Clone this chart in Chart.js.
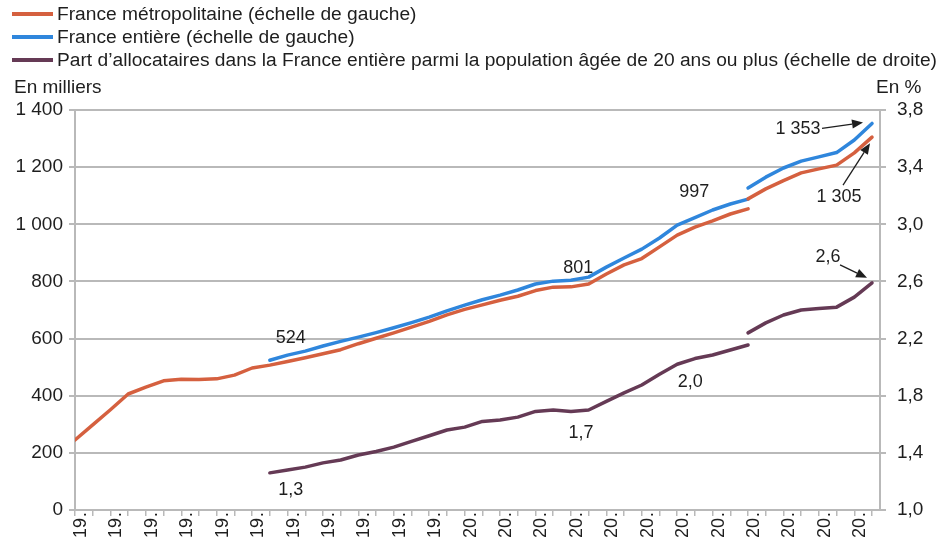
<!DOCTYPE html>
<html>
<head>
<meta charset="utf-8">
<script src="https://cdn.jsdelivr.net/npm/chart.js@4.4.1/dist/chart.umd.min.js"></script>
<style>
  html, body { margin: 0; padding: 0; background: #fff; }
  #wrap { width: 948px; height: 543px; }
</style>
</head>
<body>
<div id="wrap"><canvas id="chart"></canvas></div>
<script>
var years = [1979, 1980, 1981, 1982, 1983, 1984, 1985, 1986, 1987, 1988,
  1989, 1990, 1991, 1992, 1993, 1994, 1995, 1996, 1997, 1998,
  1999, 2000, 2001, 2002, 2003, 2004, 2005, 2006, 2007, 2008,
  2009, 2010, 2011, 2012, 2013, 2014, 2015, 2016, 2017, 2018,
  2019, 2020, 2021, 2022, 2023, 2024];

// France metropolitaine, en milliers (ancienne / nouvelle serie)
var metroOld = [245, 298, 351, 406, 430, 452, 458, 457, 459, 472,
  497, 507, 520, 533, 547, 561, 582, 601, 620, 640,
  660, 683, 702, 718, 734, 748, 768, 780, 781, 791,
  826, 858, 880, 921, 962, 990, 1012, 1036, 1054, null,
  null, null, null, null, null, null];
var metroNew = [null, null, null, null, null, null, null, null, null, null,
  null, null, null, null, null, null, null, null, null, null,
  null, null, null, null, null, null, null, null, null, null,
  null, null, null, null, null, null, null, null, 1089, 1124,
  1153, 1180, 1194, 1207, 1250, 1305];

// France entiere, en milliers
var entiereOld = [null, null, null, null, null, null, null, null, null, null,
  null, 524, 542, 556, 574, 590, 605, 621, 638, 656,
  675, 697, 717, 736, 752, 770, 791, 801, 804, 815,
  850, 882, 913, 952, 997, 1023, 1050, 1071, 1088, null,
  null, null, null, null, null, null];
var entiereNew = [null, null, null, null, null, null, null, null, null, null,
  null, null, null, null, null, null, null, null, null, null,
  null, null, null, null, null, null, null, null, null, null,
  null, null, null, null, null, null, null, null, 1127, 1165,
  1197, 1221, 1236, 1251, 1295, 1353];

// Part d'allocataires parmi les 20 ans ou plus, en %
var partOld = [null, null, null, null, null, null, null, null, null, null,
  null, 1.26, 1.28, 1.30, 1.33, 1.35, 1.385, 1.41, 1.44, 1.48,
  1.52, 1.56, 1.58, 1.62, 1.63, 1.65, 1.69, 1.70, 1.69, 1.70,
  1.76, 1.82, 1.875, 1.95, 2.02, 2.06, 2.085, 2.12, 2.155, null,
  null, null, null, null, null, null];
var partNew = [null, null, null, null, null, null, null, null, null, null,
  null, null, null, null, null, null, null, null, null, null,
  null, null, null, null, null, null, null, null, null, null,
  null, null, null, null, null, null, null, null, 2.24, 2.31,
  2.365, 2.40, 2.41, 2.42, 2.49, 2.59];

var legendLabels = [
  'France métropolitaine (échelle de gauche)',
  'France entière (échelle de gauche)',
  'Part d\u2019allocataires dans la France entière parmi la population âgée de 20 ans ou plus (échelle de droite)'
];

var cOrange = '#d5603f';
var cBlue = '#2f86dc';
var cPurple = '#653a55';
var cGrid = '#b9b9b9';
var cText = '#1e1e1e';
var fontFam = '"Liberation Sans", Arial, sans-serif';

function pts(arr) {
  return arr.map(function (v, i) { return { x: i, y: v }; });
}

function fmtThousands(v) {
  var s = String(Math.round(v));
  return s.replace(/\B(?=(\d{3})+(?!\d))/g, ' ');
}

function lineSet(data, color, axis) {
  return {
    data: pts(data),
    borderColor: color,
    backgroundColor: color,
    borderWidth: 3.5,
    pointRadius: 0,
    tension: 0,
    fill: false,
    spanGaps: false,
    yAxisID: axis,
    borderCapStyle: 'round',
    borderJoinStyle: 'round'
  };
}

// valeurs annotees : [serie, index, axe, texte, dx, dy]
var notes = [
  [entiereOld, 11, 'y', '524', 21, -22],
  [entiereOld, 27, 'y', '801', 25, -13],
  [entiereOld, 34, 'y', '997', 17, -33],
  [partOld, 11, 'y1', '1,3', 21, 17],
  [partOld, 28, 'y1', '1,7', 10, 22],
  [partOld, 34, 'y1', '2,0', 13, 18]
];
// etiquettes avec fleche : [serie, index, axe, texte, dx, dy, depart fleche dx, dy, pointe dx, dy]
var arrowNotes = [
  [entiereNew, 45, 'y', '1 353', -74, 6, -50, 5, -9, -1],
  [metroNew, 45, 'y', '1 305', -33, 60, -29, 48, -2, 6],
  [partNew, 45, 'y1', '2,6', -44, -26, -32, -18, -5, -5]
];

function arrow(ctx, x1, y1, x2, y2) {
  var a = Math.atan2(y2 - y1, x2 - x1);
  var len = 11, w = 4.5;
  var bx = x2 - len * Math.cos(a), by = y2 - len * Math.sin(a);
  ctx.beginPath();
  ctx.moveTo(x1, y1);
  ctx.lineTo(bx, by);
  ctx.stroke();
  ctx.beginPath();
  ctx.moveTo(x2, y2);
  ctx.lineTo(bx + w * Math.sin(a), by - w * Math.cos(a));
  ctx.lineTo(bx - w * Math.sin(a), by + w * Math.cos(a));
  ctx.closePath();
  ctx.fill();
}

var extras = {
  id: 'extras',
  afterDraw: function (chart) {
    var ctx = chart.ctx;
    var xs = chart.scales.x;
    ctx.save();
    ctx.fillStyle = cText;
    ctx.strokeStyle = cText;
    ctx.textBaseline = 'middle';

    // legende
    ctx.font = '19.2px ' + fontFam;
    var cols = [cOrange, cBlue, cPurple];
    legendLabels.forEach(function (lab, i) {
      var y = 14 + i * 23;
      ctx.strokeStyle = cols[i];
      ctx.lineWidth = 4;
      ctx.beginPath();
      ctx.moveTo(12, y);
      ctx.lineTo(53, y);
      ctx.stroke();
      ctx.textAlign = 'left';
      ctx.fillText(lab, 57, y + 1, 946 - 57);
    });

    // titres des axes
    ctx.font = '19px ' + fontFam;
    ctx.textAlign = 'left';
    ctx.fillText('En milliers', 14, 88);
    ctx.fillText('En %', 876, 88);

    ctx.font = '18px ' + fontFam;
    notes.forEach(function (n) {
      var px = xs.getPixelForValue(n[1]);
      var py = chart.scales[n[2]].getPixelForValue(n[0][n[1]]);
      ctx.textAlign = 'center';
      ctx.fillText(n[3], px + n[4], py + n[5]);
    });

    ctx.strokeStyle = cText;
    ctx.lineWidth = 1.3;
    arrowNotes.forEach(function (n) {
      var px = xs.getPixelForValue(n[1]);
      var py = chart.scales[n[2]].getPixelForValue(n[0][n[1]]);
      ctx.textAlign = 'center';
      ctx.fillText(n[3], px + n[4], py + n[5]);
      arrow(ctx, px + n[6], py + n[7], px + n[8], py + n[9]);
    });
    ctx.restore();
  }
};

new Chart(document.getElementById('chart'), {
  type: 'line',
  data: {
    datasets: [
      lineSet(metroOld, cOrange, 'y'),
      lineSet(metroNew, cOrange, 'y'),
      lineSet(entiereOld, cBlue, 'y'),
      lineSet(entiereNew, cBlue, 'y'),
      lineSet(partOld, cPurple, 'y1'),
      lineSet(partNew, cPurple, 'y1')
    ]
  },
  options: {
    responsive: true,
    maintainAspectRatio: false,
    animation: false,
    layout: { padding: { top: 110, left: 0, right: 0, bottom: 0 } },
    plugins: {
      legend: { display: false },
      tooltip: { enabled: false }
    },
    scales: {
      x: {
        type: 'linear',
        min: 0,
        max: 45.45,
        afterBuildTicks: function (scale) {
          scale.ticks = years.map(function (yr, i) { return { value: i }; });
        },
        afterFit: function (scale) { scale.height = 33; },
        ticks: {
          autoSkip: false,
          maxRotation: 90,
          minRotation: 90,
          padding: -16,
          labelOffset: 6,
          color: cText,
          font: { family: fontFam, size: 18 },
          callback: function (v) {
            return v % 2 === 0 ? String(years[v]).slice(0, 2) + '…' : '';
          }
        },
        grid: { drawOnChartArea: false, tickLength: 6, color: cGrid, lineWidth: 1.5 },
        border: { color: cGrid, width: 2 }
      },
      y: {
        position: 'left',
        min: 0,
        max: 1400,
        afterFit: function (scale) { scale.width = 75; },
        ticks: {
          stepSize: 200,
          padding: 6,
          color: cText,
          font: { family: fontFam, size: 19 },
          callback: function (v) { return fmtThousands(v); }
        },
        grid: { color: cGrid, lineWidth: 2, tickLength: 6 },
        border: { color: cGrid, width: 2 }
      },
      y1: {
        position: 'right',
        min: 1.0,
        max: 3.8,
        afterFit: function (scale) { scale.width = 68; },
        ticks: {
          stepSize: 0.4,
          padding: 11,
          color: cText,
          font: { family: fontFam, size: 19 },
          callback: function (v) { return v.toFixed(1).replace('.', ','); }
        },
        grid: { drawOnChartArea: false, color: cGrid, lineWidth: 2, tickLength: 6 },
        border: { color: cGrid, width: 2 }
      }
    }
  },
  plugins: [extras]
});
</script>
</body>
</html>
